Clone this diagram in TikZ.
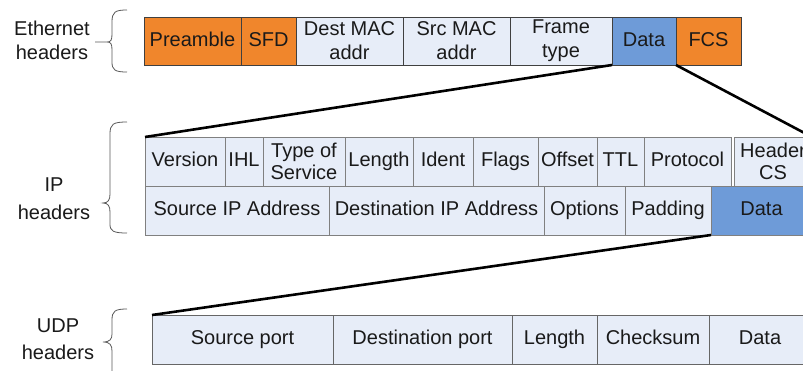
\documentclass[tikz,border=0pt]{standalone}
\usepackage{fontspec}
\setmainfont{Liberation Sans}
\definecolor{ethorange}{HTML}{F0862C}
\definecolor{datablue}{HTML}{6E9BD8}
\definecolor{fieldfill}{HTML}{E7EDF8}
\definecolor{txt}{HTML}{1A1A1A}
\tikzset{
  x=1pt, y=-1pt,
  cell/.style={draw=#1, line width=0.8pt, inner sep=0pt, outer sep=0pt,
    font=\fontsize{20}{24}\selectfont, text=txt, align=center, fill=fieldfill,
    text height=14.5pt, text depth=4.3pt},
  cell/.default={black!75},
  twoline/.style={text height=, text depth=},
  ethcell/.style={cell=black!75, minimum height=48pt},
  ipcell/.style={cell=black!50, minimum height=49pt},
  udpcell/.style={cell=black!60, minimum height=49pt},
  orangecell/.style={fill=ethorange},
  bluecell/.style={fill=datablue},
  label/.style={font=\fontsize{20}{24}\selectfont, text=txt, align=center, inner sep=0pt},
  bracket/.style={draw=black!65, line width=0.8pt},
  zoomline/.style={draw=black, line width=2.6pt}
}
\begin{document}
\begin{tikzpicture}
\useasboundingbox (0,0) rectangle (803,370);
\clip (0,0) rectangle (803,370);
\fill[white] (0,0) rectangle (803,370);

% Ethernet frame
\node[ethcell, orangecell, minimum width=97pt]  (pre)   at (192.5,41) {Preamble};
\node[ethcell, orangecell, minimum width=55pt]  (sfd)   at (268.5,41) {SFD};
\node[ethcell, twoline, minimum width=107pt] (dmac)  at (349.5,41) {Dest MAC\\addr};
\node[ethcell, twoline, minimum width=107pt] (smac)  at (456.5,41) {Src MAC\\addr};
\node[ethcell, twoline, minimum width=102pt] (ftype) at (561,41)   {Frame\\type};
\node[ethcell, bluecell, minimum width=64pt]   (edata) at (644,41)   {Data};
\node[ethcell, orangecell, minimum width=65pt]  (fcs)   at (708.5,41) {FCS};

% IP header, first row
\node[ipcell, minimum width=80pt] (ver)   at (185,161.5)   {Version};
\node[ipcell, minimum width=38pt] (ihl)   at (244,161.5)   {IHL};
\node[ipcell, twoline, minimum width=82pt] (tos)   at (304,161.5)   {Type of\\[-2pt]Service};
\node[ipcell, minimum width=68pt] (len)   at (379,161.5)   {Length};
\node[ipcell, minimum width=60pt] (ident) at (443,161.5)   {Ident};
\node[ipcell, minimum width=65pt] (flags) at (505.5,161.5) {Flags};
\node[ipcell, minimum width=59pt] (off)   at (567.5,161.5) {Offset};
\node[ipcell, minimum width=47pt] (ttl)   at (620.5,161.5) {TTL};
\node[ipcell, minimum width=87pt] (proto) at (687.5,161.5) {Protocol};
\node[ipcell, twoline, minimum width=78pt] (hcs)   at (773,161.5)   {Header\\[-2pt]CS};

% IP header, second row
\node[ipcell, minimum width=184pt] (srcip)  at (237,210.5)   {Source IP Address};
\node[ipcell, minimum width=215pt] (dstip)  at (436.5,210.5) {Destination IP Address};
\node[ipcell, minimum width=81pt]  (opts)   at (584.5,210.5) {Options};
\node[ipcell, minimum width=86pt]  (pad)    at (668,210.5)   {Padding};
\node[ipcell, bluecell, minimum width=101pt] (ipdata) at (761.5,210.5) {Data};

% UDP header
\node[udpcell, minimum width=181pt] (sport) at (242.5,339.5) {Source port};
\node[udpcell, minimum width=179pt] (dport) at (422.5,339.5) {Destination port};
\node[udpcell, minimum width=85pt]  (ulen)  at (554.5,339.5) {Length};
\node[udpcell, minimum width=112pt] (csum)  at (653,339.5)   {Checksum};
\node[udpcell, minimum width=102pt] (udata) at (760,339.5)   {Data};

% Encapsulation lines
\draw[zoomline] (edata.south west) -- (ver.north west);
\draw[zoomline] (edata.south east) -- (hcs.north east);
\draw[zoomline] (ipdata.south west) -- (sport.north west);
\draw[zoomline] (ipdata.south east) -- (udata.north east);

% Layer labels
\node[label] (ethlbl) at (52,40)  {Ethernet\\headers};
\node[label] (iplbl)  at (54,199) {IP\\[4pt]headers};
\node[label] (udplbl) at (58,339) {UDP\\[3pt]headers};

% Braces
\draw[bracket] (127,10) .. controls (115,10) and (112,12) .. (112,22) -- (112,34)
  .. controls (112,40) and (111,42) .. (107,42) -- (95,42)
  (107,42) .. controls (111,42) and (112,44) .. (112,50) -- (112,62)
  .. controls (112,70) and (115,72) .. (127,72);
\draw[bracket] (127,122) .. controls (113,122) and (110,124) .. (110,134) -- (110,194)
  .. controls (110,200) and (108,203) .. (103,203)
  .. controls (108,203) and (110,206) .. (110,212) -- (110,224)
  .. controls (110,231) and (113,233) .. (127,233);
\draw[bracket] (127,309) .. controls (115,309) and (112,311) .. (112,320) -- (112,334)
  .. controls (112,339) and (110,342) .. (103,342)
  .. controls (110,342) and (112,345) .. (112,351) -- (112,375);
\end{tikzpicture}
\end{document}
